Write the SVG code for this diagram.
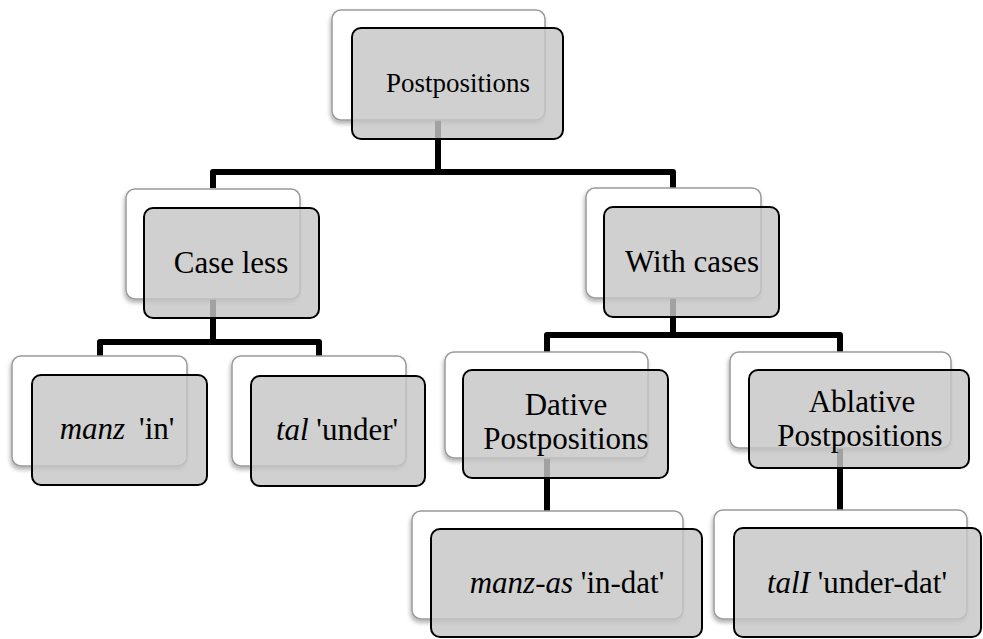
<svg xmlns="http://www.w3.org/2000/svg" width="983" height="639" viewBox="0 0 983 639">
<defs>
<filter id="sh" x="-10%" y="-10%" width="120%" height="130%">
<feDropShadow dx="-1" dy="3" stdDeviation="2" flood-color="#000" flood-opacity="0.3"/>
</filter>
</defs>
<style>
.back{fill:#fff;stroke:#9a9a9a;stroke-width:1.5;filter:url(#sh)}
.front{fill:#c6c6c6;fill-opacity:0.82;stroke:#000;stroke-width:2}
.t{font-family:"Liberation Serif","DejaVu Serif",serif;font-size:31px;fill:#000;text-anchor:middle}
.i{font-style:italic}
.conn{fill:none;stroke:#000;stroke-width:6;stroke-linejoin:round}
</style>
<rect width="983" height="639" fill="#fff"/>
<g id="connectors">
<path class="conn" d="M438,120 V172 M213,188 V172 H673 V188"/>
<path class="conn" d="M213,299 V342 M100,356 V342 H319 V356"/>
<path class="conn" d="M673,298 V335 M547,352 V335 H840 V352"/>
<path class="conn" d="M547,458 V511"/>
<path class="conn" d="M840,448 V510"/>
</g>
<g id="n-postpositions">
<rect class="back" x="332" y="10" width="213" height="110" rx="9"/>
<rect class="front" x="352" y="28" width="211" height="111" rx="9"/>
<text class="t" x="458" y="92" style="font-size:27px">Postpositions</text>
</g>
<g id="n-caseless">
<rect class="back" x="126" y="189" width="174" height="110" rx="9"/>
<rect class="front" x="144" y="208" width="175" height="110" rx="9"/>
<text class="t" x="231" y="273">Case less</text>
</g>
<g id="n-withcases">
<rect class="back" x="586" y="188" width="175" height="110" rx="9"/>
<rect class="front" x="604" y="207" width="175" height="110" rx="9"/>
<text class="t" x="692" y="272">With cases</text>
</g>
<g id="n-manz">
<rect class="back" x="12" y="356" width="175" height="110" rx="9"/>
<rect class="front" x="32" y="375" width="175" height="110" rx="9"/>
<text class="t" x="117" y="439"><tspan class="i">manz</tspan><tspan dx="14">'in'</tspan></text>
</g>
<g id="n-tal">
<rect class="back" x="232" y="356" width="174" height="110" rx="9"/>
<rect class="front" x="251" y="376" width="174" height="110" rx="9"/>
<text class="t" x="337" y="440"><tspan class="i">tal</tspan> 'under'</text>
</g>
<g id="n-dative">
<rect class="back" x="445" y="352" width="203" height="106" rx="9"/>
<rect class="front" x="463" y="370" width="205" height="108" rx="9"/>
<text class="t" x="566" y="415">Dative</text>
<text class="t" x="566" y="449">Postpositions</text>
</g>
<g id="n-ablative">
<rect class="back" x="730" y="352" width="221" height="96" rx="9"/>
<rect class="front" x="749" y="370" width="220" height="98" rx="9"/>
<text class="t" x="862" y="412">Ablative</text>
<text class="t" x="860" y="446">Postpositions</text>
</g>
<g id="n-manzas">
<rect class="back" x="412" y="511" width="271" height="108" rx="9"/>
<rect class="front" x="431" y="529" width="271" height="108" rx="9"/>
<text class="t" x="567" y="593"><tspan class="i">manz-as</tspan> 'in-dat'</text>
</g>
<g id="n-tali">
<rect class="back" x="714" y="510" width="253" height="109" rx="9"/>
<rect class="front" x="734" y="528" width="247" height="109" rx="9"/>
<text class="t" x="857" y="593"><tspan class="i">talI</tspan> 'under-dat'</text>
</g>
</svg>
